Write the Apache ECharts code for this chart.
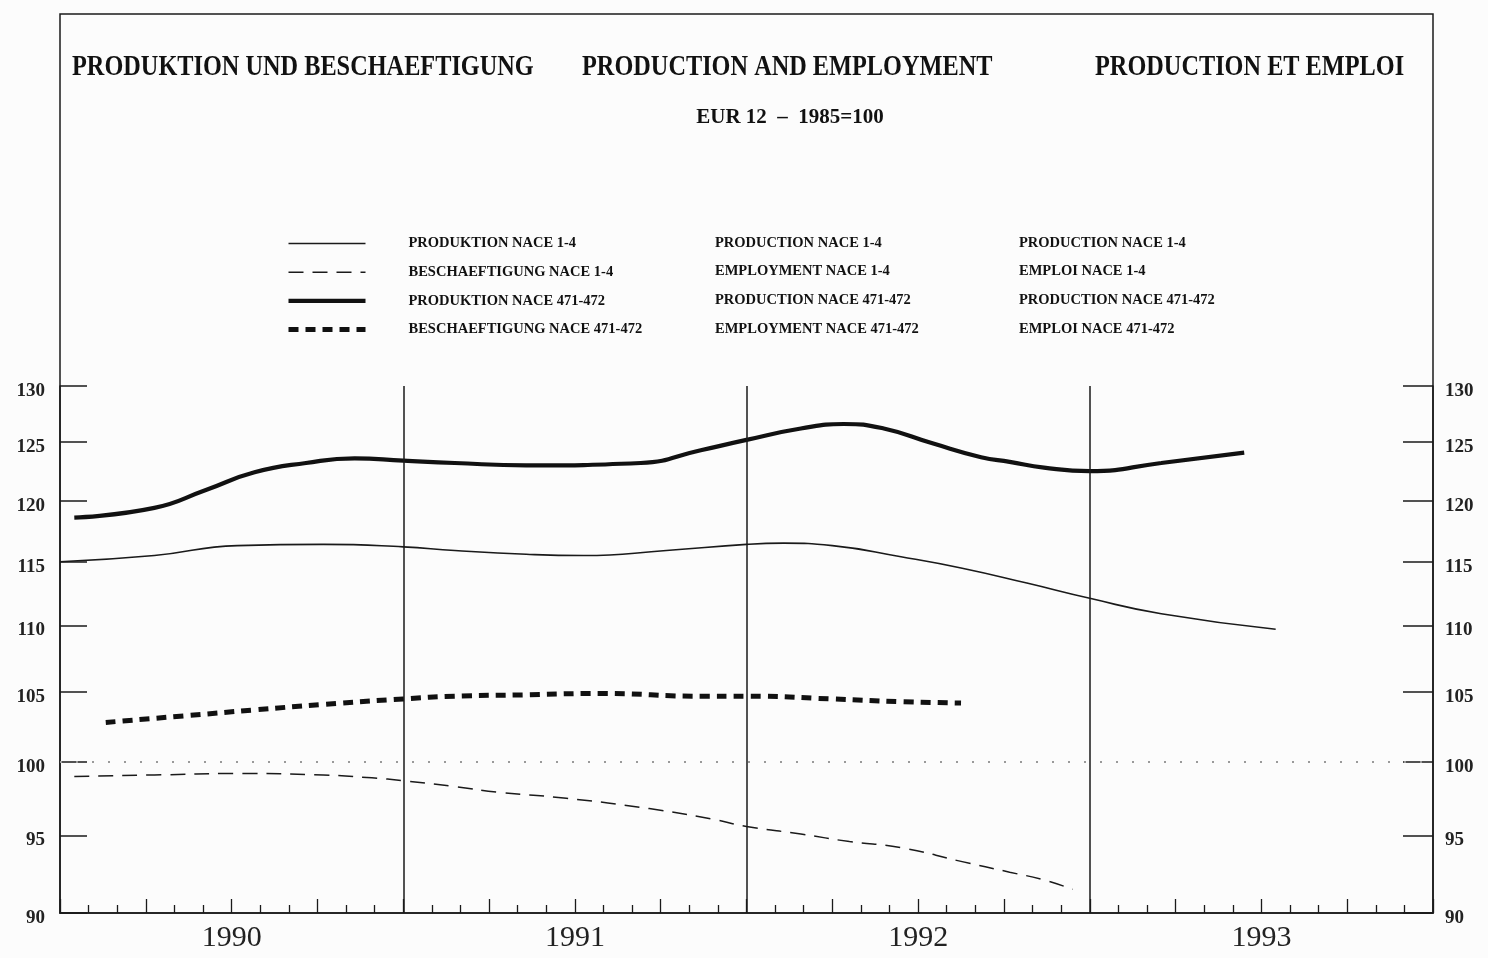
<!DOCTYPE html>
<html><head><meta charset="utf-8">
<script src="https://cdn.jsdelivr.net/npm/echarts@6/dist/echarts.min.js"></script>
<style>html,body{margin:0;padding:0;background:#fcfcfc}#c{width:1488px;height:958px}</style>
</head><body><div id="c"></div>
<script>
// ---- data ----
const yTicks = [90, 95, 100, 105, 110, 115, 120, 125, 130];
const yearLabels = ['1990', '1991', '1992', '1993'];
const yearCenters = [6, 18, 30, 42];
const yearBounds = [12, 24, 36];
const refLevel = 100;

const namesDE = ['PRODUKTION NACE 1-4', 'BESCHAEFTIGUNG NACE 1-4', 'PRODUKTION NACE 471-472', 'BESCHAEFTIGUNG NACE 471-472'];
const namesEN = ['PRODUCTION NACE 1-4', 'EMPLOYMENT NACE 1-4', 'PRODUCTION NACE 471-472', 'EMPLOYMENT NACE 471-472'];
const namesFR = ['PRODUCTION NACE 1-4', 'EMPLOI NACE 1-4', 'PRODUCTION NACE 471-472', 'EMPLOI NACE 471-472'];

// months since Jan 1990
const prodAllMonths = [0, 3.3, 6.2, 9.2, 12, 13.8, 16.3, 18.3, 21.2, 24, 25.3, 27, 29.4, 31.5, 33.8, 36, 38.5, 42.5];
const prodAllValues = [115.0, 115.5, 116.3, 116.4, 116.2, 115.9, 115.6, 115.5, 115.9, 116.4, 116.5, 116.3, 115.4, 114.5, 113.3, 112.1, 110.9, 109.7];

const emplAllMonths = [0.5, 3.3, 6.2, 9.2, 10.9, 12, 13.8, 15.4, 17.7, 20.6, 22.8, 24, 25.9, 27.6, 29.4, 31.5, 33.2, 34.4, 35.4];
const emplAllValues = [99.0, 99.1, 99.2, 99.1, 98.9, 98.7, 98.3, 97.9, 97.5, 96.8, 96.1, 95.6, 95.1, 94.6, 94.2, 93.3, 92.6, 92.1, 91.5];

const prodTexMonths = [0.5, 3.3, 5.1, 6.8, 8.6, 10.3, 12, 13.8, 16.3, 20.3, 22.4, 24, 25.9, 27.4, 28.8, 30.5, 32.2, 33.2, 34.4, 36, 38.5, 41.4];
const prodTexValues = [118.6, 119.4, 120.9, 122.4, 123.2, 123.6, 123.4, 123.2, 123.0, 123.2, 124.3, 125.2, 126.2, 126.6, 126.2, 124.9, 123.7, 123.3, 122.8, 122.5, 123.2, 124.1];

const emplTexMonths = [1.6, 4.5, 6.8, 9.2, 12, 13.8, 16.3, 18.9, 22.4, 24, 27, 29.4, 31.5];
const emplTexValues = [102.8, 103.3, 103.7, 104.1, 104.5, 104.7, 104.8, 104.9, 104.7, 104.7, 104.5, 104.3, 104.2];

// ---- chart ----
const pairs = (xs, ys) => xs.map((x, i) => [x, ys[i]]);
const INK = '#1a1a1a';
const SERIF = '"Liberation Serif", "DejaVu Serif", serif';

const yAxisBase = (pos, len, margin) => ({
  type: 'log', logBase: 10, min: 90, max: 130, position: pos,
  axisLine: { show: true, lineStyle: { color: INK, width: 1.5 } },
  axisTick: { show: true, inside: true, length: len, customValues: yTicks, lineStyle: { color: INK, width: 1.5 } },
  axisLabel: { customValues: yTicks, margin: margin, verticalAlign: 'top', lineHeight: 10, fontFamily: SERIF, fontSize: 19, fontWeight: 'bold', color: '#222' },
  splitLine: { show: false }, minorTick: { show: false }
});

const chart = echarts.init(document.getElementById('c'));
chart.setOption({
  animation: false,
  backgroundColor: '#fcfcfc',
  grid: { left: 60, right: 55, top: 386, bottom: 45 },
  xAxis: {
    type: 'value', min: 0, max: 48, interval: 3,
    axisLine: { lineStyle: { color: INK, width: 1.5 } },
    axisTick: { inside: true, length: 14, lineStyle: { color: INK, width: 1.3 } },
    minorTick: { show: true, splitNumber: 3, length: 8, lineStyle: { color: INK, width: 1.3 } },
    axisLabel: {
      customValues: yearCenters,
      formatter: v => yearLabels[Math.round((v - yearCenters[0]) / 12)],
      margin: 10, fontFamily: SERIF, fontSize: 30, color: '#222'
    },
    splitLine: { show: false }
  },
  yAxis: [yAxisBase('left', 27, 15), yAxisBase('right', 30, 12)],
  legend: {
    left: 286, top: 236, orient: 'vertical', padding: 0,
    itemWidth: 77, itemHeight: 14, itemGap: 13.7,
    itemStyle: { opacity: 0 },
    lineStyle: { width: 'inherit' },
    textStyle: { fontFamily: SERIF, fontWeight: 'bold', fontSize: 14.5, lineHeight: 14, color: '#111', padding: [0, 0, 0, 38] },
    data: namesDE
  },
  series: [
    {
      name: namesDE[0], type: 'line', smooth: true, symbol: 'none',
      data: pairs(prodAllMonths, prodAllValues),
      lineStyle: { color: INK, width: 1.6 }, itemStyle: { color: INK },
      markLine: {
        silent: true, symbol: ['none', 'none'], label: { show: false },
        data: yearBounds.map(v => ({ xAxis: v, lineStyle: { color: INK, width: 1.5, type: 'solid' } }))
          .concat([{ yAxis: refLevel, lineStyle: { color: '#9a9a9a', width: 2, type: [2, 14] } }])
      }
    },
    {
      name: namesDE[1], type: 'line', smooth: true, symbol: 'none',
      data: pairs(emplAllMonths, emplAllValues),
      lineStyle: { color: INK, width: 1.5, type: [15, 9] }, itemStyle: { color: INK }
    },
    {
      name: namesDE[2], type: 'line', smooth: true, symbol: 'none',
      data: pairs(prodTexMonths, prodTexValues),
      lineStyle: { color: '#111', width: 4.2 }, itemStyle: { color: '#111' }
    },
    {
      name: namesDE[3], type: 'line', smooth: true, symbol: 'none',
      data: pairs(emplTexMonths, emplTexValues),
      lineStyle: { color: '#111', width: 5, type: [10, 7] }, itemStyle: { color: '#111' }
    }
  ],
  graphic: [
    { type: 'rect', z: 0, shape: { x: 60, y: 14, width: 1373, height: 899 }, style: { fill: 'none', stroke: INK, lineWidth: 1.5 } },
    { type: 'text', x: 72, y: 67, scaleX: 0.81, style: { text: 'PRODUKTION UND BESCHAEFTIGUNG', font: 'bold 30px ' + SERIF, fill: '#111', verticalAlign: 'middle' } },
    { type: 'text', x: 582, y: 67, scaleX: 0.81, style: { text: 'PRODUCTION AND EMPLOYMENT', font: 'bold 30px ' + SERIF, fill: '#111', verticalAlign: 'middle' } },
    { type: 'text', x: 1095, y: 67, scaleX: 0.81, style: { text: 'PRODUCTION ET EMPLOI', font: 'bold 30px ' + SERIF, fill: '#111', verticalAlign: 'middle' } },
    { type: 'text', x: 790, y: 118, style: { text: 'EUR 12  \u2013  1985=100', font: 'bold 21px ' + SERIF, fill: '#111', align: 'center', verticalAlign: 'middle' } }
  ].concat(
    namesEN.map((t, i) => ({ type: 'text', x: 715, y: 243 + i * 28.7, style: { text: t, font: 'bold 14.5px ' + SERIF, fill: '#111', verticalAlign: 'middle' } })),
    namesFR.map((t, i) => ({ type: 'text', x: 1019, y: 243 + i * 28.7, style: { text: t, font: 'bold 14.5px ' + SERIF, fill: '#111', verticalAlign: 'middle' } }))
  )
});
</script>
</body></html>
